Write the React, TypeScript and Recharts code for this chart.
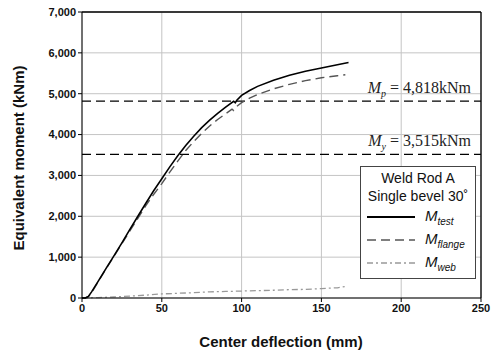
import React from "react";
import {
  LineChart,
  Line,
  XAxis,
  YAxis,
  CartesianGrid,
  ReferenceLine,
} from "recharts";

const xTicks = [0, 50, 100, 150, 200, 250];
const yTicks = [0, 1000, 2000, 3000, 4000, 5000, 6000, 7000];

const testDefl = [0, 2, 4, 6, 10, 15, 20, 25, 30, 35, 40, 45, 50, 55, 60, 65, 70, 75, 80, 85, 90, 95, 96, 97, 100, 105, 110, 120, 130, 140, 150, 160, 167];
const testMoment = [0, 0, 40, 150, 400, 720, 1030, 1350, 1680, 2000, 2320, 2630, 2920, 3210, 3480, 3730, 3960, 4170, 4355, 4520, 4670, 4815, 4780, 4840, 4960, 5080, 5180, 5330, 5450, 5550, 5630, 5710, 5765];

const flangeDefl = [0, 2, 4, 6, 10, 15, 20, 25, 30, 35, 40, 45, 50, 55, 60, 65, 70, 75, 80, 85, 90, 94, 95, 97, 100, 105, 110, 120, 130, 140, 150, 160, 165];
const flangeMoment = [0, 0, 30, 130, 390, 710, 1020, 1330, 1640, 1950, 2260, 2540, 2800, 3080, 3350, 3610, 3830, 4030, 4210, 4370, 4510, 4620, 4590, 4690, 4780, 4890, 4980, 5120, 5230, 5320, 5390, 5440, 5465];

const webDefl = [0, 5, 10, 20, 30, 40, 50, 60, 70, 80, 90, 100, 110, 120, 130, 140, 150, 160, 165];
const webMoment = [0, 5, 10, 25, 45, 70, 100, 115, 130, 150, 160, 170, 180, 190, 205, 210, 230, 250, 280];

const mp = 4818;
const my = 3515;

const toData = (xs: number[], ys: number[]) => xs.map((x, i) => ({ x, y: ys[i] }));
const testData = toData(testDefl, testMoment);
const flangeData = toData(flangeDefl, flangeMoment);
const webData = toData(webDefl, webMoment);

const fmt = (v: number) => v.toLocaleString("en-US");

const sans = "Arial, 'Liberation Sans', sans-serif";
const serif = "'Times New Roman', 'Liberation Serif', serif";

const RefLabel = (sub: string, value: string) => (props: any) => {
  const vb = props.viewBox || {};
  const x = (vb.x || 0) + (vb.width || 0) - 10;
  const y = (vb.y || 0) - 8;
  return (
    <text x={x} y={y} textAnchor="end" fontFamily={serif} fontSize={16} fill="#222">
      <tspan fontStyle="italic">M</tspan>
      <tspan fontStyle="italic" fontSize={10} dy={4}>{sub}</tspan>
      <tspan dy={-4}>{" = " + value + "kNm"}</tspan>
    </text>
  );
};

const legendItems = [
  { name: "test", color: "#000", dash: "", width: 1.8 },
  { name: "flange", color: "#555", dash: "9 5", width: 1.4 },
  { name: "web", color: "#999", dash: "6 3 2 3", width: 1.3 },
];

const LegendBox = () => (
  <div
    style={{
      position: "absolute",
      left: 360,
      top: 166,
      width: 114,
      height: 111,
      border: "1px solid #444",
      background: "#fff",
      fontFamily: sans,
      color: "#111",
    }}
  >
    <div style={{ textAlign: "center", fontSize: 14, lineHeight: "18px", marginTop: 2 }}>Weld Rod A</div>
    <div style={{ textAlign: "center", fontSize: 14, lineHeight: "18px" }}>Single bevel 30˚</div>
    {legendItems.map((it) => (
      <div key={it.name} style={{ display: "flex", alignItems: "center", height: 23 }}>
        <svg width={60} height={10} style={{ marginLeft: 4 }}>
          <line x1={2} y1={5} x2={50} y2={5} stroke={it.color} strokeWidth={it.width} strokeDasharray={it.dash} />
        </svg>
        <span style={{ fontStyle: "italic", fontSize: 15 }}>
          M<sub style={{ fontSize: 10 }}>{it.name}</sub>
        </span>
      </div>
    ))}
  </div>
);

export default function App() {
  return (
    <div style={{ position: "absolute", left: 0, top: 0, width: 500, height: 361, background: "#fff" }}>
      <LineChart width={500} height={361} margin={{ top: 12, right: 19, left: 22, bottom: 23 }}>
        <CartesianGrid stroke="#c4c4c4" strokeWidth={1} />
        <XAxis
          type="number"
          dataKey="x"
          domain={[0, 250]}
          ticks={xTicks}
          allowDataOverflow
          height={40}
          stroke="#000"
          tickSize={4}
          tick={{ fontSize: 11, fontWeight: "bold", fill: "#111", fontFamily: sans }}
          label={() => (
            <text x={281} y={347} textAnchor="middle" fontFamily={sans} fontSize={15} fontWeight="bold" fill="#111">
              Center deflection (mm)
            </text>
          )}
        />
        <YAxis
          type="number"
          domain={[0, 7000]}
          ticks={yTicks}
          width={60}
          stroke="#000"
          tickSize={4}
          tickFormatter={fmt}
          tick={{ fontSize: 11, fontWeight: "bold", fill: "#111", fontFamily: sans }}
          label={() => (
            <text
              x={18}
              y={158}
              textAnchor="middle"
              transform="rotate(-90 18 158)"
              dominantBaseline="central"
              fontFamily={sans}
              fontSize={15}
              fontWeight="bold"
              fill="#111"
            >
              Equivalent moment (kNm)
            </text>
          )}
        />
        <ReferenceLine y={7000} stroke="#000" strokeWidth={1.3} />
        <ReferenceLine x={250} stroke="#000" strokeWidth={1.3} />
        <ReferenceLine y={mp} stroke="#000" strokeWidth={1.2} strokeDasharray="9 5" label={RefLabel("p", "4,818")} />
        <ReferenceLine y={my} stroke="#000" strokeWidth={1.2} strokeDasharray="9 5" label={RefLabel("y", "3,515")} />
        <Line data={webData} dataKey="y" name="web" stroke="#999" strokeWidth={1.3} strokeDasharray="6 3 2 3" dot={false} isAnimationActive={false} type="linear" />
        <Line data={flangeData} dataKey="y" name="flange" stroke="#555" strokeWidth={1.4} strokeDasharray="9 5" dot={false} isAnimationActive={false} type="linear" />
        <Line data={testData} dataKey="y" name="test" stroke="#000" strokeWidth={1.6} dot={false} isAnimationActive={false} type="linear" />
      </LineChart>
      <LegendBox />
    </div>
  );
}
